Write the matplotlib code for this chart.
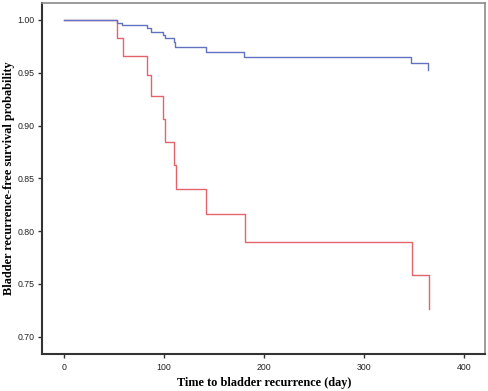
import matplotlib
matplotlib.use("Agg")
import matplotlib.pyplot as plt

# Kaplan-Meier step data
blue_days = [0, 53.0, 58.5, 83.0, 87.0, 99.5, 101.0, 110.0, 111.5, 142.0, 180.5, 347.5, 364.5]
blue_surv = [1.0, 0.9975, 0.9950, 0.9925, 0.9890, 0.9862, 0.9825, 0.9790, 0.9740, 0.9695, 0.9645, 0.9590, 0.9526]

red_days = [0, 52.7, 58.7, 82.7, 87.3, 99.3, 100.7, 110.0, 111.7, 142.3, 181.0, 347.7, 364.7]
red_surv = [1.0, 0.9826, 0.9661, 0.9475, 0.9276, 0.9063, 0.8842, 0.8624, 0.8397, 0.8164, 0.7895, 0.7581, 0.7265]

x_ticks = [0, 100, 200, 300, 400]
y_ticks = [0.70, 0.75, 0.80, 0.85, 0.90, 0.95, 1.00]
x_label = "Time to bladder recurrence (day)"
y_label = "Bladder recurrence-free survival probability"

W, H = 489, 391
fig = plt.figure(figsize=(W / 100, H / 100), dpi=100)
L, R, T, B = 42, 485, 3, 354
ax = fig.add_axes([L / W, (H - B) / H, (R - L) / W, (B - T) / H])

ax.step(red_days, red_surv, where="post", color="#e5646b", lw=1.0)
ax.step(blue_days, blue_surv, where="post", color="#6072c0", lw=1.0)

ax.set_xlim(-22, 421)
ax.set_ylim(0.6836, 1.0161)
ax.set_xticks(x_ticks)
ax.set_xticklabels([str(t) for t in x_ticks])
ax.set_yticks(y_ticks)
ax.set_yticklabels([f"{t:.2f}" for t in y_ticks])

for s in ["left", "bottom"]:
    ax.spines[s].set_color("#333333")
    ax.spines[s].set_linewidth(1.5)
for s in ["top", "right"]:
    ax.spines[s].set_color("#8a8a8a")
    ax.spines[s].set_linewidth(1.2)

ax.tick_params(axis="both", direction="out", length=3.0, width=1.0, color="#333333",
               labelsize=6.3, labelcolor="#222222")
ax.tick_params(axis="y", pad=2.5)
ax.tick_params(axis="x", pad=3.5)
for lab in ax.get_xticklabels() + ax.get_yticklabels():
    lab.set_family("Liberation Sans")

ax.set_xlabel(x_label, family="Liberation Serif", fontweight="bold", fontsize=8.8, va="center")
ax.xaxis.set_label_coords((264 - L) / (R - L), (B - 383) / (B - T))
ax.set_ylabel(y_label, family="Liberation Serif", fontweight="bold", fontsize=8.8, va="center")
ax.yaxis.set_label_coords((9 - L) / (R - L), 0.5)

fig.savefig("out.png", dpi=100)
